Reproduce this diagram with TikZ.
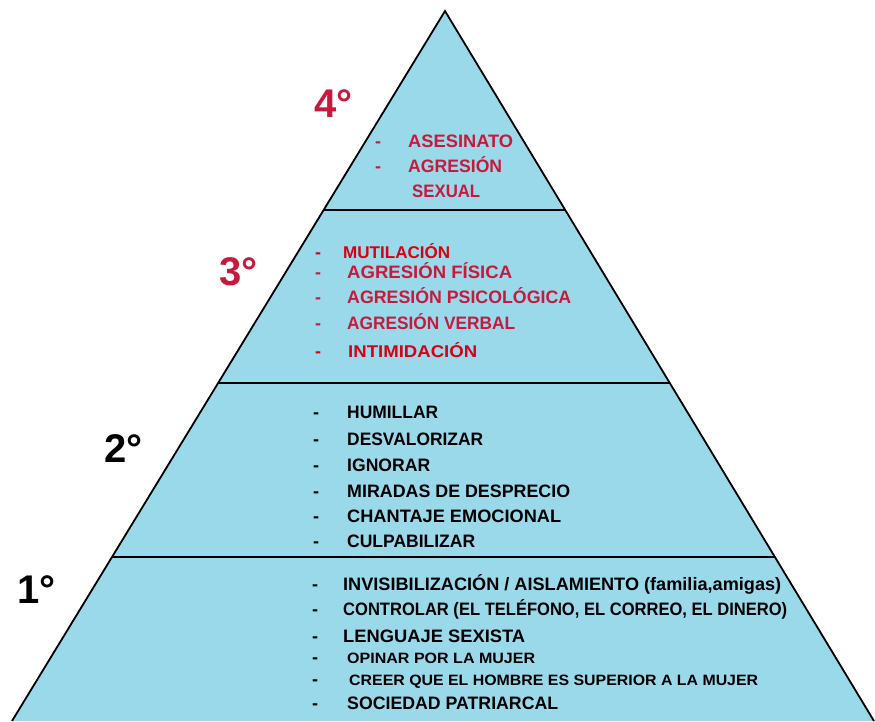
\documentclass[tikz,border=0pt]{standalone}
\usepackage{fontspec}
\setmainfont{Liberation Sans}
\usepackage{graphicx}
\usetikzlibrary{calc}
\definecolor{pyrfill}{RGB}{153,217,234}
\definecolor{crim}{RGB}{200,25,60}
\definecolor{brightred}{RGB}{215,0,20}
\newcommand{\fitw}[2]{\resizebox{#1}{\height}{#2}}
\begin{document}
\begin{tikzpicture}[x=1pt,y=-1pt,
  item/.style={anchor=base west, inner sep=0pt, font=\bfseries\fontsize{18}{20}\selectfont},
  smallitem/.style={item, font=\bfseries\fontsize{15}{17}\selectfont},
  dashmark/.style={anchor=base west, inner sep=0pt, font=\bfseries\fontsize{18}{20}\selectfont},
  levellabel/.style={anchor=base west, inner sep=0pt, font=\bfseries\fontsize{40}{44}\selectfont},
  divider/.style={line width=2.4pt},
  pyredge/.style={line width=1.8pt}]
\useasboundingbox (0,0) rectangle (875,721);
\coordinate (A) at (445,11);
\coordinate (BL) at (12,721);
\coordinate (BR) at (874,721);
\fill[pyrfill] (A) -- (BL) -- (BR) -- cycle;
\draw[pyredge] (BL) -- (A) -- (BR);
\coordinate (L1) at ($(A)!0.2803!(BL)$);
\coordinate (R1) at ($(A)!0.2803!(BR)$);
\coordinate (L2) at ($(A)!0.5239!(BL)$);
\coordinate (R2) at ($(A)!0.5239!(BR)$);
\coordinate (L3) at ($(A)!0.7690!(BL)$);
\coordinate (R3) at ($(A)!0.7690!(BR)$);
\draw[divider] (L1) -- (R1);
\draw[divider] (L2) -- (R2);
\draw[divider] (L3) -- (R3);

% level labels
\node[levellabel,text=crim] (n4) at (314,117) {4°};
\node[levellabel,text=crim] (n3) at (219,285) {3°};
\node[levellabel] (n2) at (104,462) {2°};
\node[levellabel] (n1) at (17,603) {1°};

% level 4
\node[dashmark,text=crim] (d4a) at (375,147) {-};
\node[item,text=crim] (t4a) at (408,147) {\fitw{105pt}{ASESINATO}};
\node[dashmark,text=crim] (d4b) at (375,172) {-};
\node[item,text=crim] (t4b) at (408,172) {\fitw{94pt}{AGRESIÓN}};
\node[item,text=crim] (t4c) at (412,197) {\fitw{68pt}{SEXUAL}};

% level 3
\node[dashmark,text=brightred] (d3a) at (315,258) {-};
\node[item,text=brightred,font=\bfseries\fontsize{17}{19}\selectfont] (t3a) at (343,258) {\fitw{107pt}{MUTILACIÓN}};
\node[dashmark,text=crim] (d3b) at (315,278) {-};
\node[item,text=crim] (t3b) at (347,278) {\fitw{165pt}{AGRESIÓN FÍSICA}};
\node[dashmark,text=crim] (d3c) at (315,303) {-};
\node[item,text=crim] (t3c) at (347,303) {\fitw{224pt}{AGRESIÓN PSICOLÓGICA}};
\node[dashmark,text=crim] (d3d) at (315,329) {-};
\node[item,text=crim] (t3d) at (347,329) {\fitw{168pt}{AGRESIÓN VERBAL}};
\node[dashmark,text=brightred] (d3e) at (315,357) {-};
\node[item,text=brightred,font=\bfseries\fontsize{17}{19}\selectfont] (t3e) at (348,357) {\fitw{129pt}{INTIMIDACIÓN}};

% level 2
\node[dashmark] (d2a) at (313,418) {-};
\node[item] (t2a) at (347,418) {\fitw{91pt}{HUMILLAR}};
\node[dashmark] (d2b) at (313,445) {-};
\node[item] (t2b) at (347,445) {\fitw{136pt}{DESVALORIZAR}};
\node[dashmark] (d2c) at (313,471) {-};
\node[item] (t2c) at (347,471) {\fitw{83pt}{IGNORAR}};
\node[dashmark] (d2d) at (313,497) {-};
\node[item] (t2d) at (347,497) {\fitw{223pt}{MIRADAS DE DESPRECIO}};
\node[dashmark] (d2e) at (313,522) {-};
\node[item] (t2e) at (347,522) {\fitw{214pt}{CHANTAJE EMOCIONAL}};
\node[dashmark] (d2f) at (313,547) {-};
\node[item] (t2f) at (347,547) {\fitw{128pt}{CULPABILIZAR}};

% level 1
\node[dashmark] (d1a) at (312,590) {-};
\node[item] (t1a) at (343,590) {\fitw{438pt}{INVISIBILIZACIÓN / AISLAMIENTO (familia,amigas)}};
\node[dashmark] (d1b) at (312,615) {-};
\node[item] (t1b) at (343,615) {\fitw{444pt}{CONTROLAR (EL TELÉFONO, EL CORREO, EL DINERO)}};
\node[dashmark] (d1c) at (312,642) {-};
\node[item] (t1c) at (343,642) {\fitw{182pt}{LENGUAJE SEXISTA}};
\node[dashmark] (d1d) at (312,663) {-};
\node[smallitem] (t1d) at (347,663) {\fitw{188pt}{OPINAR POR LA MUJER}};
\node[dashmark] (d1e) at (312,685) {-};
\node[smallitem] (t1e) at (349,685) {\fitw{409pt}{CREER QUE EL HOMBRE ES SUPERIOR A LA MUJER}};
\node[dashmark] (d1f) at (312,709) {-};
\node[item] (t1f) at (347,709) {\fitw{211pt}{SOCIEDAD PATRIARCAL}};
\end{tikzpicture}
\end{document}
